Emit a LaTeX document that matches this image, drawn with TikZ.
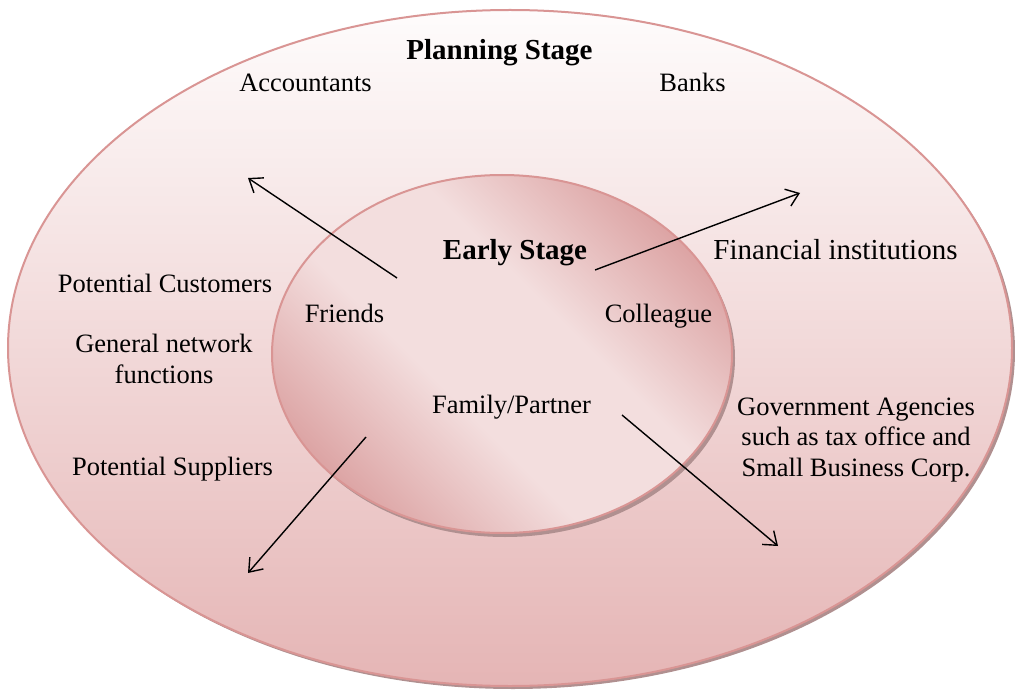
\documentclass[tikz,border=0pt]{standalone}
\usepackage{fontspec}
\setmainfont{Liberation Serif}
\usetikzlibrary{arrows.meta,shapes.geometric}
\definecolor{rimc}{HTML}{D99594}
\definecolor{outtop}{HTML}{FEFCFC}
\definecolor{outbot}{HTML}{E5B5B5}
\definecolor{indark}{HTML}{DA9E9E}
\definecolor{inlight}{HTML}{F3DEDE}
\definecolor{shad}{HTML}{B09090}
\pgfdeclareverticalshading{innshade}{100bp}{color(0bp)=(indark); color(23bp)=(indark); color(42bp)=(inlight); color(58bp)=(inlight); color(77bp)=(indark); color(100bp)=(indark)}
\begin{document}
\begin{tikzpicture}[x=1pt,y=-1pt,
 lbl/.style={font=\fontsize{26.5}{30.5}\selectfont, align=center, inner sep=0pt, anchor=base},
 boldlbl/.style={lbl, font=\fontsize{29}{33}\selectfont\bfseries},
 biglbl/.style={lbl, font=\fontsize{29}{33}\selectfont},
 arr/.style={-{Straight Barb[length=12pt,width=18pt]}, line width=1.4pt, black},
 ring/.style={ellipse, inner sep=0pt, draw=rimc, line width=2pt}]
\useasboundingbox (0,0) rectangle (1015,695);
% outer ellipse
\fill[shad] (513,351) ellipse [x radius=502, y radius=338];
\node[ring, minimum width=1004pt, minimum height=676pt, top color=outtop, bottom color=outbot] (outer) at (510,348) {};
% inner ellipse
\fill[shad] (505,358) ellipse [x radius=230, y radius=179];
\node[ring, minimum width=460pt, minimum height=358pt, shading=innshade, shading angle=-45] (inner) at (502,354) {};
% texts
\node[boldlbl] (plan) at (499.5,60) {Planning Stage};
\node[lbl] (acc) at (305.5,92) {Accountants};
\node[lbl] (banks) at (692.5,92) {Banks};
\node[boldlbl] (early) at (515,260) {Early Stage};
\node[biglbl] (fin) at (835.5,260) {Financial institutions};
\node[lbl] (pcust) at (165,292) {Potential Customers};
\node[lbl] (friends) at (344.5,322) {Friends};
\node[lbl] (coll) at (658.5,322) {Colleague};
\node[lbl] (gen) at (164,383) {General network\\functions};
\node[lbl] (fam) at (511.5,413) {Family/Partner};
\node[lbl] (gov) at (856,476) {Government Agencies\\such as tax office and\\Small Business Corp.};
\node[lbl] (psup) at (172.5,475) {Potential Suppliers};
% arrows
\coordinate (s1) at (397,278); \coordinate (t1) at (248,178);
\coordinate (s2) at (595,270); \coordinate (t2) at (800,193);
\coordinate (s3) at (366,437); \coordinate (t3) at (248,573);
\coordinate (s4) at (622,415); \coordinate (t4) at (778,546);
\draw[arr] (s1) -- (t1);
\draw[arr] (s2) -- (t2);
\draw[arr] (s3) -- (t3);
\draw[arr] (s4) -- (t4);
\end{tikzpicture}
\end{document}
